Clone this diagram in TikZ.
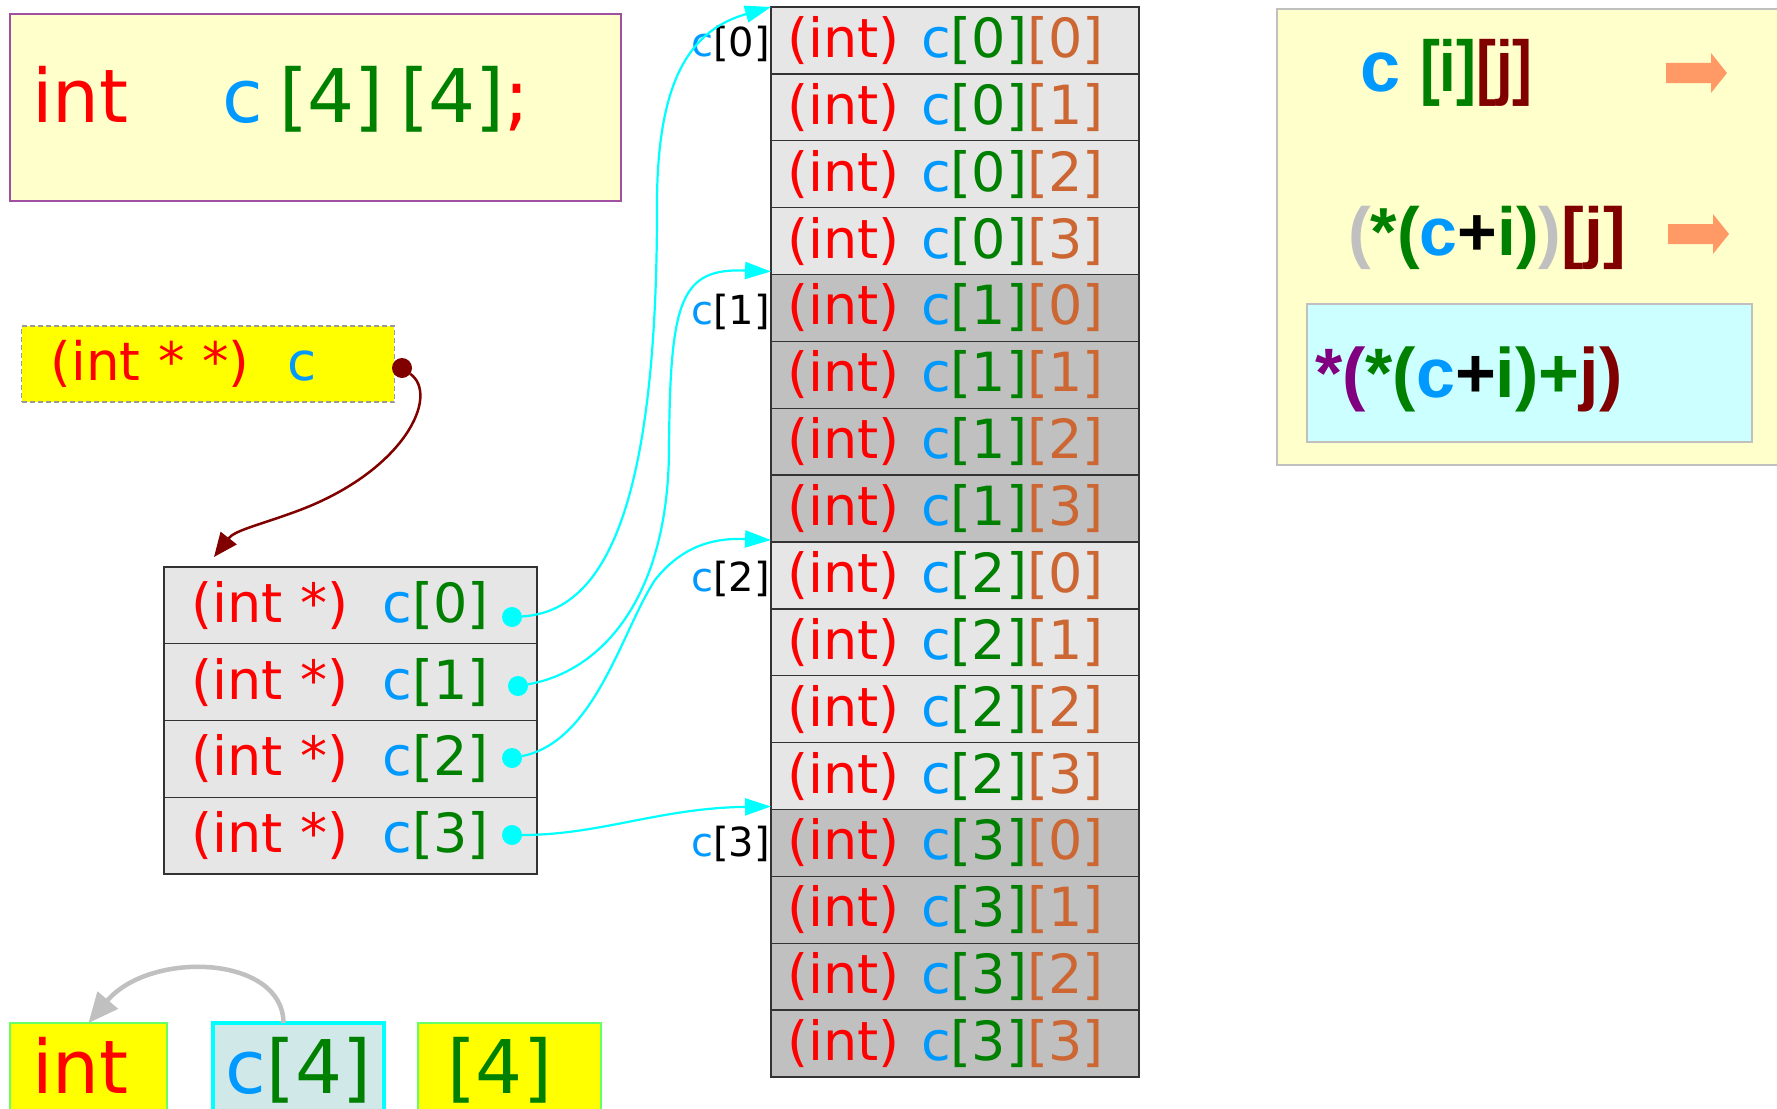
\documentclass[tikz,border=0pt]{standalone}
\usepackage{fontspec}
\setmainfont{DejaVu Sans}
\newfontfamily\panelfont{Liberation Sans}
\usetikzlibrary{arrows.meta,positioning}

\definecolor{kred}{HTML}{FF0000}
\definecolor{kblue}{HTML}{0099FF}
\definecolor{kgreen}{HTML}{008000}
\definecolor{korange}{HTML}{CC6633}
\definecolor{kmaroon}{HTML}{800000}
\definecolor{kpurple}{HTML}{800080}
\definecolor{ksilver}{HTML}{C0C0C0}
\definecolor{kcyan}{HTML}{00FFFF}
\definecolor{kyellow}{HTML}{FFFF00}
\definecolor{lightyellow}{HTML}{FFFFCC}
\definecolor{lightcyan}{HTML}{CCFFFF}
\definecolor{cellgray}{HTML}{E6E6E6}
\definecolor{cellgrayb}{HTML}{C0C0C0}
\definecolor{boxcyan}{HTML}{D0E8E8}
\definecolor{boxgreen}{HTML}{66FF66}
\definecolor{declborder}{HTML}{A050A0}
\definecolor{arroworange}{HTML}{FF9966}

\newcommand{\arrcell}[2]{\textcolor{kred}{(int)}\hspace{0.4em}\textcolor{kblue}{c}\textcolor{kgreen}{[#1]}\textcolor{korange}{[#2]}}
\newcommand{\ptrcell}[1]{\textcolor{kred}{(int *)}\hspace{0.62em}\textcolor{kblue}{c}\textcolor{kgreen}{[#1]}}
\newcommand{\rowlabel}[1]{\textcolor{kblue}{c}[#1]}
\newcommand{\narrow}[1]{\scalebox{0.83}[1]{#1}}

\begin{document}
\begin{tikzpicture}[x=1pt, y=-1pt,
  every node/.style={inner sep=0pt, outer sep=0pt},
  cell/.style={draw=black!80, line width=1.4pt, fill=cellgray, text width=336pt, inner xsep=16pt,
    minimum height=66.875pt, align=left, font=\fontsize{54}{60}\selectfont},
  darkcell/.style={cell, fill=cellgrayb},
  pcell/.style={draw=black!80, line width=1.4pt, fill=cellgray, text width=318.4pt, inner xsep=27.3pt,
    minimum height=76.75pt, align=left, font=\fontsize{54}{60}\selectfont},
  idx/.style={font=\fontsize{40}{48}\selectfont},
  cdot/.style={circle, fill=kcyan, minimum size=20pt},
  mdot/.style={circle, fill=kmaroon, minimum size=20pt},
  ptrarrow/.style={draw=kcyan, line width=2.2pt, -{Triangle[length=26pt,width=17pt]}},
  refarrow/.style={draw=kmaroon, line width=2.5pt, -{Triangle[length=24pt,width=20pt]}},
  typearrow/.style={draw=ksilver, line width=4.5pt, -{Triangle[length=30pt,width=26pt]}},
  bigtext/.style={font=\fontsize{74}{80}\selectfont},
  declbox/.style={draw=declborder, line width=1.2pt, fill=lightyellow, minimum width=611pt, minimum height=187pt},
  varbox/.style={draw=gray!80, dash pattern=on 5pt off 3pt, line width=1.4pt, fill=kyellow, text width=314.5pt,
    inner xsep=29pt, minimum height=76pt, align=left, font=\fontsize{53}{60}\selectfont},
  partbox/.style={draw=boxgreen, line width=1.5pt, fill=kyellow, minimum height=94pt, text height=56pt, text depth=9pt, bigtext},
  panel/.style={draw=ksilver, line width=1.5pt, fill=lightyellow, minimum width=513pt, minimum height=456pt},
  exprbox/.style={draw=ksilver, line width=1.5pt, fill=lightcyan, minimum width=445pt, minimum height=138pt},
  exprtext/.style={font=\panelfont\bfseries\fontsize{68}{76}\selectfont},
]
\useasboundingbox (0,0) rectangle (1777,1108);
\fill[white] (0,0) rectangle (1777,1108);

% DECLARATION
\node[declbox] (decl) at (315.5,107.5) {};
\node[bigtext, anchor=base] (dtype) at (80.5,122) {\textcolor{kred}{int}};
\node[bigtext, anchor=base] (dname) at (376,122)
  {\textcolor{kblue}{c}\hspace{0.22em}\textcolor{kgreen}{[4]\hspace{0.22em}[4]}\textcolor{kred}{;}};

% POINTER VARIABLE
\node[varbox] (pc) at (208,364) {\textcolor{kred}{(int * *)}\hspace{0.72em}\textcolor{kblue}{c}};
\node[mdot] (md) at (402,368) {};
\coordinate (ptop) at (214,557);

% POINTER ARRAY
\node[pcell] (p0) at (350.5,605.375) {\ptrcell{0}};
\node[pcell, below=0pt of p0] (p1) {\ptrcell{1}};
\node[pcell, below=0pt of p1] (p2) {\ptrcell{2}};
\node[pcell, below=0pt of p2] (p3) {\ptrcell{3}};
\node[cdot] (d0) at (512,617) {};
\node[cdot] (d1) at (518,686) {};
\node[cdot] (d2) at (512,758) {};
\node[cdot] (d3) at (512,835) {};

% INT ARRAY
\node[cell] (a0) at (955,40.4375) {\arrcell{0}{0}};
\node[cell, below=0pt of a0] (a1) {\arrcell{0}{1}};
\node[cell, below=0pt of a1] (a2) {\arrcell{0}{2}};
\node[cell, below=0pt of a2] (a3) {\arrcell{0}{3}};
\node[darkcell, below=0pt of a3] (a4) {\arrcell{1}{0}};
\node[darkcell, below=0pt of a4] (a5) {\arrcell{1}{1}};
\node[darkcell, below=0pt of a5] (a6) {\arrcell{1}{2}};
\node[darkcell, below=0pt of a6] (a7) {\arrcell{1}{3}};
\node[cell, below=0pt of a7] (a8) {\arrcell{2}{0}};
\node[cell, below=0pt of a8] (a9) {\arrcell{2}{1}};
\node[cell, below=0pt of a9] (a10) {\arrcell{2}{2}};
\node[cell, below=0pt of a10] (a11) {\arrcell{2}{3}};
\node[darkcell, below=0pt of a11] (a12) {\arrcell{3}{0}};
\node[darkcell, below=0pt of a12] (a13) {\arrcell{3}{1}};
\node[darkcell, below=0pt of a13] (a14) {\arrcell{3}{2}};
\node[darkcell, below=0pt of a14] (a15) {\arrcell{3}{3}};

\node[idx, left=1pt of a0.west, yshift=-4pt] (l0) {\rowlabel{0}};
\node[idx, left=1pt of a4.west, yshift=-4pt] (l1) {\rowlabel{1}};
\node[idx, left=1pt of a8.west, yshift=-3pt] (l2) {\rowlabel{2}};
\node[idx, left=1pt of a12.west, yshift=-1pt] (l3) {\rowlabel{3}};

% ARROWS
\draw[refarrow] (md) .. controls (440,395) and (405,470) .. (300,510)
  .. controls (260,525) and (235,530) .. (ptop);
\draw[ptrarrow] (d0) .. controls (600,612) and (658,520) .. (657,200)
  .. controls (658,80) and (690,30) .. (a0.north west);
\draw[ptrarrow] (d1) .. controls (600,672) and (668,600) .. (669,450)
  .. controls (670,300) and (680,268) .. ([yshift=3pt]a4.north west);
\draw[ptrarrow] (d2) .. controls (595,742) and (622,630) .. (655,580)
  .. controls (685,542) and (720,538) .. ([yshift=2pt]a8.north west);
\draw[ptrarrow] (d3) .. controls (600,835) and (660,808) .. ([yshift=3pt]a12.north west);

% PARTS
\node[partbox, minimum width=157pt] (tint) at (88.5,1070) {\hspace*{-16pt}\textcolor{kred}{int}};
\node[partbox, minimum width=171pt, fill=boxcyan, draw=kcyan, line width=3.5pt] (cfour) at (298.5,1070)
  {\textcolor{kblue}{c}\textcolor{kgreen}{[4]}};
\node[partbox, minimum width=183pt] (tfour) at (509.5,1070) {\hspace*{-20pt}\textcolor{kgreen}{[4]}};
\draw[typearrow] ([xshift=-15pt]cfour.north) .. controls (283,955) and (150,950) .. (tint.north);

% EXPRESSIONS
\node[panel] (panel) at (1533.5,237) {};
\node[exprbox] (expr) at (1529.5,373) {};
\node[anchor=base west, font=\panelfont\bfseries\fontsize{72}{80}\selectfont] (e1) at (1360,92)
  {\textcolor{kblue}{c} \narrow{\textcolor{kgreen}{[i]}\textcolor{kmaroon}{[j]}}};
\node[exprtext, anchor=base west] (e2) at (1348,255)
  {\textcolor{ksilver}{(}\textcolor{kgreen}{*(}\textcolor{kblue}{c}+\textcolor{kgreen}{i)}\textcolor{ksilver}{)}\textcolor{kmaroon}{[j]}};
\node[exprtext, anchor=base west, font=\panelfont\bfseries\fontsize{70}{76}\selectfont] (e3) at (1315,397)
  {\textcolor{kpurple}{*(}\textcolor{kgreen}{*(}\textcolor{kblue}{c}+\textcolor{kgreen}{i)+}\textcolor{kmaroon}{j)}};
\fill[arroworange] (1666,63) -- (1711,63) -- (1711,53) -- (1727,73) -- (1711,93) -- (1711,83) -- (1666,83) -- cycle;
\fill[arroworange] (1668,224) -- (1713,224) -- (1713,214) -- (1729,234) -- (1713,254) -- (1713,244) -- (1668,244) -- cycle;
\end{tikzpicture}
\end{document}
